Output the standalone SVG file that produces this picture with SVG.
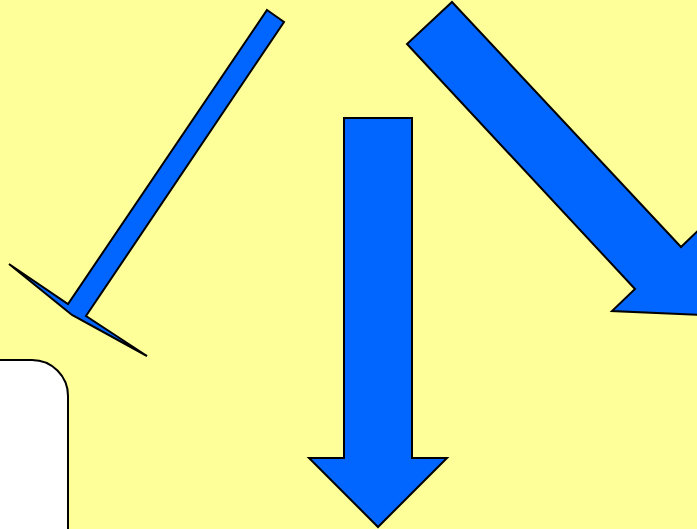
<svg xmlns="http://www.w3.org/2000/svg" width="697" height="529" viewBox="0 0 697 529">
<style>
.arrow{fill:#0066FF;stroke:#000;stroke-width:2;stroke-linejoin:miter}
.box{fill:#FFFFFF;stroke:#000;stroke-width:2}
</style>
<rect x="0" y="0" width="697" height="529" fill="#FFFF99"/>
<g id="box1"><rect class="box" x="-40" y="360" width="108" height="220" rx="36" ry="36"/></g>
<g id="connectors">
<polygon id="arrow-left" class="arrow" points="267,10 284,22 86,316 147,356 72,315 9,264 68,304"/>
<polygon id="arrow-down" class="arrow" points="344,118 412,118 412,458 447,458 378,527 309,458 344,458"/>
<polygon id="arrow-right" class="arrow" points="452,2 681,247 704,225 701,315 612,311 635,289 407,44"/>
</g>
</svg>
